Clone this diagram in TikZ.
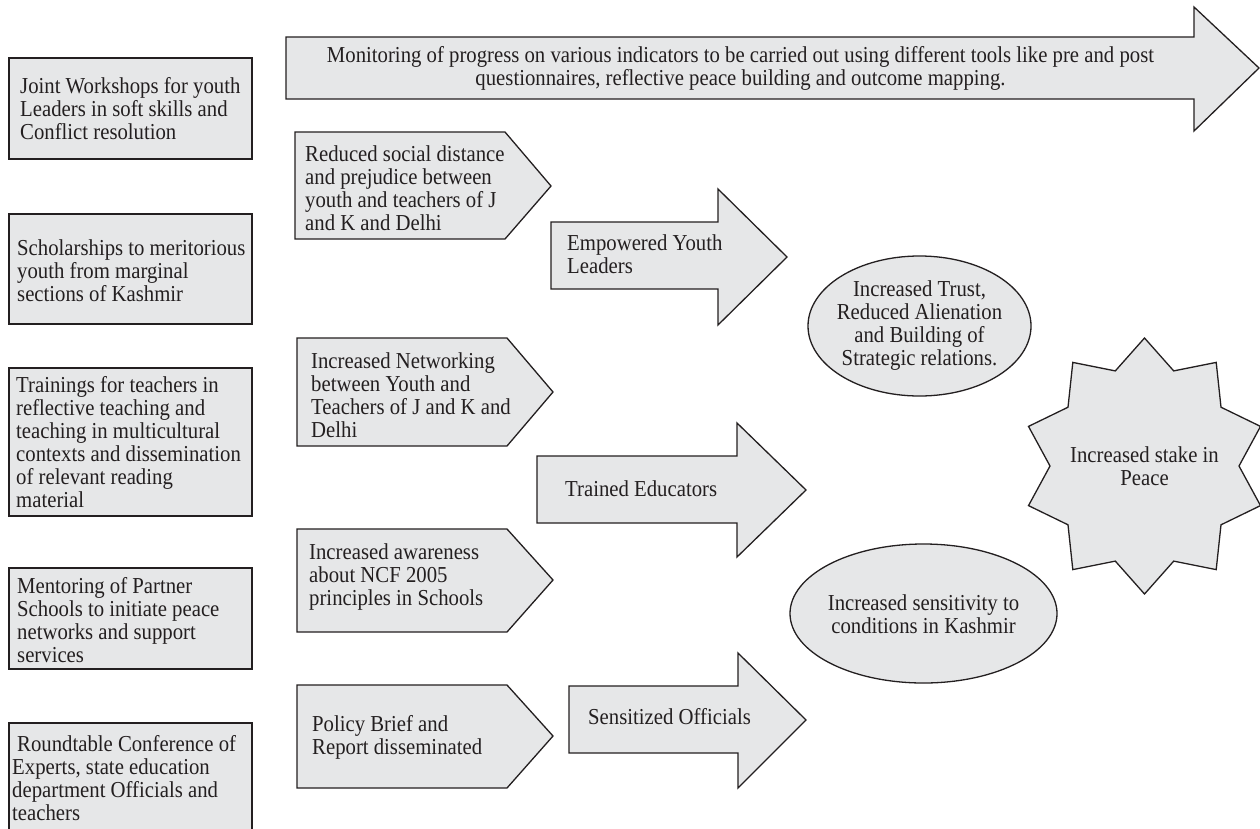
\documentclass[tikz,border=0pt]{standalone}
\usepackage{fontspec}
\setmainfont{Liberation Serif}[FakeStretch=0.91]
\definecolor{shapefill}{HTML}{E6E7E8}
\definecolor{ink}{HTML}{231F20}
\tikzset{
  shp/.style={draw=ink, fill=shapefill, line width=1.3pt, line join=miter},
  lbl/.style={inner sep=0pt, text=ink, font=\fontsize{22.8}{23}\selectfont, align=left, anchor=west},
  clbl/.style={inner sep=0pt, text=ink, font=\fontsize{22.8}{23}\selectfont, align=center},
}
\begin{document}
\begin{tikzpicture}[x=1pt,y=-1pt]
\useasboundingbox (0,0) rectangle (1260,828);
\fill[white] (0,0) rectangle (1260,828);
\clip (0,0) rectangle (1260,828);

% top monitoring arrow
\draw[shp] (286,37) -- (1194,37) -- (1194,7) -- (1259,68) -- (1194,131) -- (1194,99) -- (286,99) -- cycle;
\node[clbl] (monitor) at (740.5,68) {Monitoring of progress on various indicators to be carried out using different tools like pre and post\\questionnaires, reflective peace building and outcome mapping.};

% left activity boxes
\draw[shp] (9,58) rectangle (252,159);
\node[lbl] (b1) at (20,109) {Joint Workshops for youth\\Leaders in soft skills and\\Conflict resolution};
\draw[shp] (9,214) rectangle (252,324);
\node[lbl] (b2) at (17,271) {Scholarships to meritorious\\youth from marginal\\sections of Kashmir};
\draw[shp] (9,368) rectangle (252,516);
\node[lbl] (b3) at (16,442.5) {Trainings for teachers in\\reflective teaching and\\teaching in multicultural\\contexts and dissemination\\of relevant reading\\material};
\draw[shp] (9,568) rectangle (252,669);
\node[lbl] (b4) at (17,620) {Mentoring of Partner\\Schools to initiate peace\\networks and support\\services};
\draw[shp] (9,723) rectangle (252,860);
\node[lbl] (b5) at (12,778) {\hspace*{5pt}Roundtable Conference of\\Experts, state education\\department Officials and\\teachers};

% pentagon outputs
\draw[shp] (295,132) -- (505,132) -- (551,186) -- (505,239) -- (295,239) -- cycle;
\node[lbl] (p1) at (305,188.5) {Reduced social distance\\and prejudice between\\youth and teachers of J\\and K and Delhi};
\draw[shp] (297,338) -- (507,338) -- (553,392) -- (507,446) -- (297,446) -- cycle;
\node[lbl] (p2) at (311,395) {Increased Networking\\between Youth and\\Teachers of J and K and\\Delhi};
\draw[shp] (297,529) -- (507,529) -- (553,580) -- (507,632) -- (297,632) -- cycle;
\node[lbl] (p3) at (309,577) {Increased awareness\\about NCF 2005\\principles in Schools};
\draw[shp] (297,685) -- (507,685) -- (553,736) -- (507,788) -- (297,788) -- cycle;
\node[lbl] (p4) at (312,737) {Policy Brief and\\Report disseminated};

% block arrows
\draw[shp] (551,222) -- (718,222) -- (718,189) -- (787,257) -- (718,325) -- (718,289) -- (551,289) -- cycle;
\node[lbl] (a1) at (567,254) {Empowered Youth\\Leaders};
\draw[shp] (537,456) -- (737,456) -- (737,423) -- (806,490) -- (737,557) -- (737,523) -- (537,523) -- cycle;
\node[lbl] (a2) at (565,489) {Trained Educators};
\draw[shp] (569,686) -- (738,686) -- (738,653) -- (806,720) -- (738,788) -- (738,753) -- (569,753) -- cycle;
\node[lbl] (a3) at (588,717) {Sensitized Officials};

% ellipses
\draw[shp] (919.5,326) ellipse [x radius=111.5, y radius=70];
\node[clbl] (e1) at (919.5,326) {Increased Trust,\\Reduced Alienation\\and Building of\\Strategic relations.};
\draw[shp] (923.5,613.5) ellipse [x radius=133.5, y radius=69.5];
\node[clbl] (e2) at (923.5,614) {Increased sensitivity to\\conditions in Kashmir};

% ten-point star
\draw[shp] (1144.5,338) -- (1115.3,370.9) -- (1072.8,362.4) -- (1068,407.2) -- (1028.5,426.4)
  -- (1050,466) -- (1028.5,505.6) -- (1068,524.8) -- (1072.8,569.6) -- (1115.3,561.1)
  -- (1144.5,594) -- (1173.7,561.1) -- (1216.2,569.6) -- (1221,524.8) -- (1260.5,505.6)
  -- (1239,466) -- (1260.5,426.4) -- (1221,407.2) -- (1216.2,362.4) -- (1173.7,370.9) -- cycle;
\node[clbl] (star) at (1144.5,466.5) {Increased stake in\\Peace};
\end{tikzpicture}
\end{document}
